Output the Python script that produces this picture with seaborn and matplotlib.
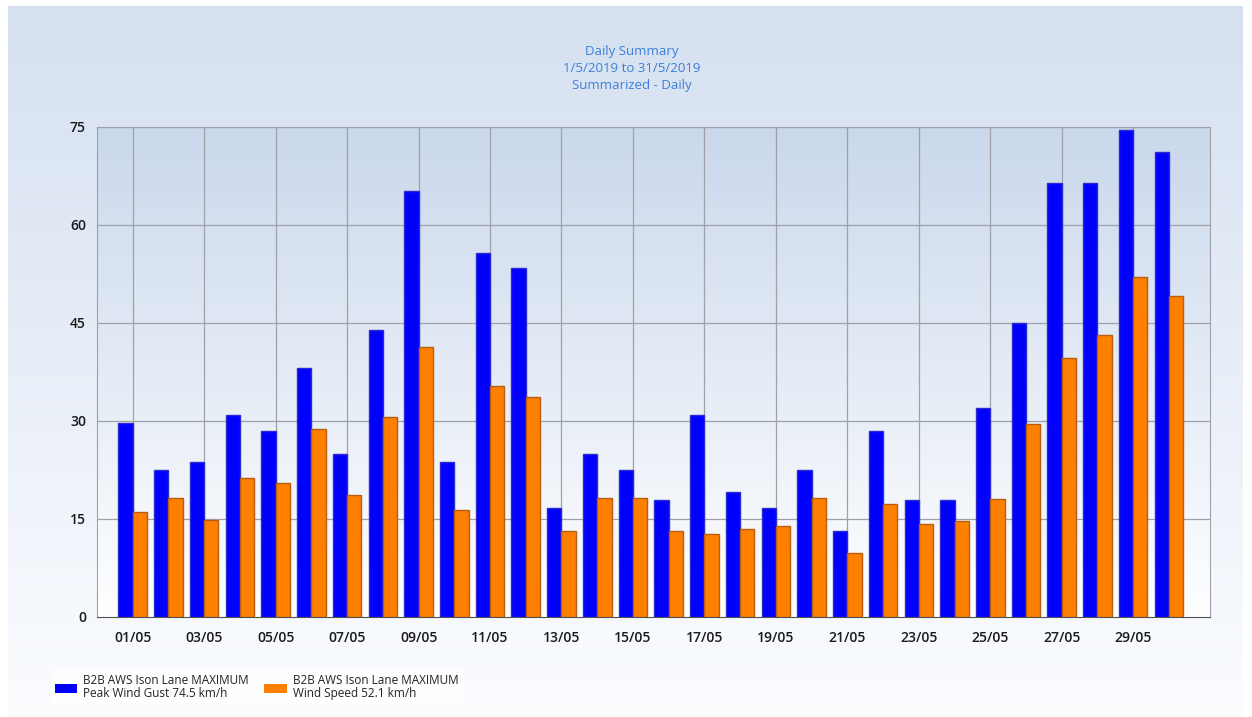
import numpy as np
import pandas as pd
import matplotlib
matplotlib.use("Agg")
import matplotlib.pyplot as plt
import matplotlib.patches as mpatches
import seaborn as sns

# données (mai 2019)
days = ["%02d/05" % d for d in range(1, 31)]
gust = [29.7, 22.5, 23.7, 30.9, 28.5, 38.1, 24.9, 43.9, 65.2, 23.7,
        55.7, 53.4, 16.7, 24.9, 22.5, 17.9, 30.9, 19.1, 16.7, 22.5,
        13.2, 28.5, 17.9, 17.9, 32.0, 45.0, 66.4, 66.4, 74.5, 71.2]
speed = [16.1, 18.2, 14.8, 21.3, 20.5, 28.8, 18.7, 30.6, 41.3, 16.4,
         35.4, 33.7, 13.2, 18.2, 18.2, 13.2, 12.7, 13.5, 13.9, 18.2,
         9.8, 17.3, 14.2, 14.7, 18.1, 29.5, 39.6, 43.2, 52.1, 49.1]
series = ["B2B AWS Ison Lane MAXIMUM\nPeak Wind Gust 74.5 km/h",
          "B2B AWS Ison Lane MAXIMUM\nWind Speed 52.1 km/h"]
yticks = [0, 15, 30, 45, 60, 75]
titre = ["Daily Summary", "1/5/2019 to 31/5/2019", "Summarized - Daily"]

df = pd.DataFrame({"day": days * 2,
                   "value": gust + speed,
                   "serie": [series[0]] * len(days) + [series[1]] * len(days)})

sns.set_style("white")
plt.rcParams['font.family'] = ['Open Sans', 'DejaVu Sans']

W, H = 1252, 717
fig = plt.figure(figsize=(W / 100, H / 100), dpi=100)
fig.patch.set_facecolor("white")

# fond dégradé du panneau
bg = fig.add_axes([8 / W, 0, 1235 / W, 711 / H], zorder=-10)
c_top = np.array([0.835, 0.878, 0.941])
c_bot = np.array([0.985, 0.99, 1.0])
t = np.linspace(0, 1, 256)[:, None]
grad = c_top + (c_bot - c_top) * t
bg.imshow(grad[:, None, :].repeat(2, axis=1), aspect="auto", extent=[0, 1, 0, 1])
bg.set_axis_off()

ax = fig.add_axes([97 / W, 100 / H, (1210 - 97) / W, 490 / H])
ax.set_facecolor("none")
a_top = np.array([0.792, 0.847, 0.925])
a_bot = np.array([1.0, 1.0, 1.0])
grad2 = a_top + (a_bot - a_top) * t
ax.imshow(grad2[:, None, :].repeat(2, axis=1), aspect="auto",
          extent=[0, 1, 0, 1], transform=ax.transAxes, zorder=0)

palette = {series[0]: "#0000ff", series[1]: "#ff8000"}
sns.barplot(data=df, x="day", y="value", hue="serie", palette=palette,
            width=0.8, saturation=1, ax=ax, legend=False, zorder=3)
# bordure pour l'effet relief
for bar, col in zip(ax.patches, ["#2a2ad0"] * 30 + ["#b85e10"] * 30):
    bar.set_edgecolor(col)
    bar.set_linewidth(1.0)

xmax = 30.15
ax.set_xlim(-1.0, xmax)
ax.set_ylim(0, 75)
ax.set_yticks(yticks)
ax.set_yticklabels([str(v) for v in yticks])
pos = list(range(0, 30, 2))
ax.set_xticks(pos)
ax.set_xticklabels([days[i] for i in pos])
ax.set_xticks([xmax], minor=True)
ax.set_xlabel("")
ax.set_ylabel("")

for y in yticks[1:]:
    ax.axhline(y, color="#a0a0a8", lw=0.9, zorder=1)
for x in pos:
    ax.axvline(x, color="#a0a0a8", lw=0.9, zorder=1)

for s in ["top", "right", "left"]:
    ax.spines[s].set_color("#a0a0a8")
ax.spines["bottom"].set_color("#505050")
ax.tick_params(axis="both", which="both", direction="out", length=6, width=1,
               color="#202020", labelsize=10, labelcolor="#1a1a1a")
ax.tick_params(axis="y", pad=2)
ax.tick_params(axis="x", pad=4)
for lab in ax.get_xticklabels() + ax.get_yticklabels():
    lab.set_fontweight("semibold")

# titre en trois lignes
for i, line in enumerate(titre):
    fig.text(632 / W, 1 - (52 + 16.5 * i) / H, line, ha="center", va="center",
             color="#3b7fdb", fontsize=9.5)

# légende
handles = [mpatches.Patch(facecolor=palette[s], edgecolor="none") for s in series]
leg = fig.legend(handles, series, loc="lower left", bbox_to_anchor=(45 / W, 7 / H),
                 ncol=2, frameon=True, fontsize=8.5, handlelength=1.9, handleheight=0.8,
                 columnspacing=1.3, handletextpad=0.5, borderpad=0.35,
                 labelspacing=0.2, fancybox=False)
leg.get_frame().set_facecolor("white")
leg.get_frame().set_edgecolor("white")
for txt in leg.get_texts():
    txt.set_color("#222222")
    txt.set_linespacing(0.95)

fig.savefig("out.png", dpi=100)
